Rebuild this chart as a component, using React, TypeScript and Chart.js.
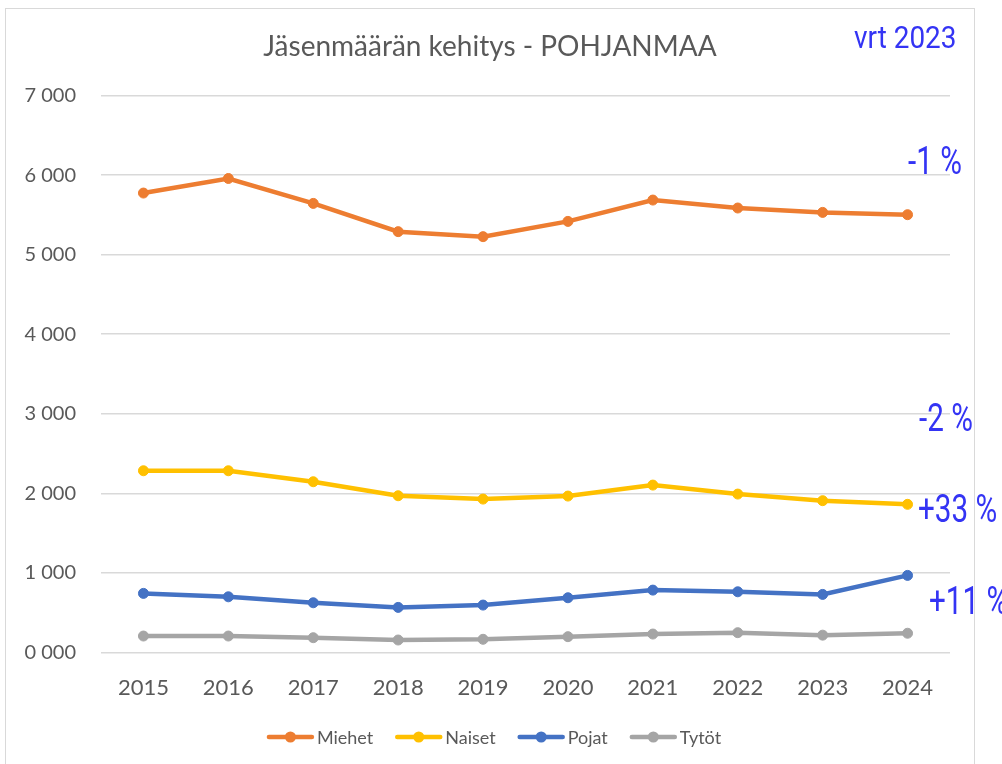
import React, { useEffect, useRef } from "react";
import { Chart, registerables } from "chart.js";

Chart.register(...registerables);

const years = ["2015", "2016", "2017", "2018", "2019", "2020", "2021", "2022", "2023", "2024"];
const miehet = [5774, 5957, 5644, 5289, 5226, 5418, 5686, 5586, 5531, 5502];
const naiset = [2284, 2284, 2146, 1970, 1928, 1966, 2104, 1991, 1908, 1862];
const pojat = [743, 700, 625, 567, 596, 688, 784, 763, 730, 969];
const tytot = [207, 207, 186, 157, 166, 199, 232, 249, 218, 242];
const seriesNames = ["Miehet", "Naiset", "Pojat", "Tytöt"];
const seriesColors = ["#ED7D31", "#FFC000", "#4472C4", "#A5A5A5"];

const titleText = "Jäsenmäärän kehitys - POHJANMAA";
const compareText = "vrt 2023";
const changeTexts = ["-1 %", "-2 %", "+33 %", "+11 %"];
// layout of the change labels (left x, vertical centre)
const changeLayout = [
  { x: 908, y: 160 },
  { x: 919, y: 417 },
  { x: 918, y: 508 },
  { x: 929, y: 600 },
];

const GRAY = "#595959";
const BLUE = "#3434F4";

function drawScaled(
  ctx: CanvasRenderingContext2D,
  text: string,
  x: number,
  y: number,
  font: string,
  color: string,
  sx: number,
  align: CanvasTextAlign
) {
  ctx.save();
  ctx.translate(x, y);
  ctx.scale(sx, 1);
  ctx.font = font;
  ctx.fillStyle = color;
  ctx.textAlign = align;
  ctx.textBaseline = "alphabetic";
  ctx.fillText(text, 0, 0);
  ctx.restore();
}

const overlayPlugin = {
  id: "overlay",
  afterDraw(chart: any) {
    const ctx: CanvasRenderingContext2D = chart.ctx;
    // title
    drawScaled(ctx, titleText, 490, 56, "28px Lato", GRAY, 1, "center");
    // compare label
    drawScaled(ctx, compareText, 854, 48, "31px Roboto", BLUE, 0.9, "left");
    // change labels
    changeTexts.forEach((t, i) => {
      const p = changeLayout[i];
      drawScaled(ctx, t, p.x, p.y + 13.5, "38px Roboto", BLUE, 0.78, "left");
    });
    // legend
    ctx.save();
    ctx.font = "18px Lato";
    const lineW = 47;
    const gapText = 3;
    const gapItem = 22;
    const widths = chart.data.datasets.map(
      (d: any) => lineW + gapText + ctx.measureText(d.label).width
    );
    const total = widths.reduce((a: number, b: number) => a + b, 0) + gapItem * (widths.length - 1);
    let x = 494 - total / 2;
    const ly = 737;
    chart.data.datasets.forEach((d: any, i: number) => {
      ctx.strokeStyle = d.borderColor;
      ctx.lineWidth = 4.5;
      ctx.lineCap = "round";
      ctx.beginPath();
      ctx.moveTo(x + 2, ly);
      ctx.lineTo(x + lineW - 2, ly);
      ctx.stroke();
      ctx.fillStyle = d.borderColor;
      ctx.beginPath();
      ctx.arc(x + lineW / 2, ly, 5.5, 0, Math.PI * 2);
      ctx.fill();
      ctx.fillStyle = GRAY;
      ctx.textAlign = "left";
      ctx.textBaseline = "middle";
      ctx.fillText(d.label, x + lineW + gapText, ly + 1);
      x += widths[i] + gapItem;
    });
    ctx.restore();
  },
};

function fmt(v: number) {
  const th = Math.floor(v / 1000);
  const rest = String(Math.round(v % 1000)).padStart(3, "0");
  return `${th} ${rest}`;
}

export default function App() {
  const ref = useRef<HTMLCanvasElement | null>(null);
  useEffect(() => {
    if (!ref.current) return;
    const values = [miehet, naiset, pojat, tytot];
    const chart = new Chart(ref.current, {
      type: "line",
      data: {
        labels: years,
        datasets: values.map((v, i) => ({
          label: seriesNames[i],
          data: v,
          borderColor: seriesColors[i],
          backgroundColor: seriesColors[i],
          pointBackgroundColor: seriesColors[i],
          pointBorderColor: seriesColors[i],
          borderWidth: 4.5,
          pointRadius: 5,
          pointBorderWidth: 1,
          tension: 0,
          fill: false,
        })),
      },
      options: {
        animation: false,
        responsive: false,
        maintainAspectRatio: false,
        layout: { padding: { left: 0, right: 52, top: 95.5, bottom: 51.5 } },
        plugins: {
          legend: { display: false },
          title: { display: false },
          tooltip: { enabled: false },
        },
        scales: {
          x: {
            offset: true,
            grid: { display: false, drawTicks: false },
            border: { display: false },
            ticks: { color: GRAY, font: { family: "Lato", size: 22 }, padding: 22, maxRotation: 0 },
            afterFit: (s: any) => {
              s.height = 60;
            },
          },
          y: {
            min: 0,
            max: 7000,
            grid: { color: "#D9D9D9", lineWidth: 1.5, drawTicks: false },
            border: { display: false },
            ticks: {
              stepSize: 1000,
              color: GRAY,
              font: { family: "Lato", size: 20 },
              padding: 25,
              callback: (v: any) => fmt(Number(v)),
            },
            afterFit: (s: any) => {
              s.width = 101;
            },
          },
        },
      },
      plugins: [overlayPlugin],
    });
    return () => chart.destroy();
  }, []);

  return (
    <div
      style={{
        position: "absolute",
        left: 0,
        top: 0,
        width: 1002,
        height: 764,
        overflow: "hidden",
        background: "#fff",
      }}
    >
      <div
        style={{
          position: "absolute",
          left: 5,
          top: 8,
          width: 970,
          height: 800,
          border: "1.5px solid #D9D9D9",
          boxSizing: "border-box",
        }}
      />
      <canvas
        ref={ref}
        width={1002}
        height={764}
        style={{ position: "absolute", left: 0, top: 0, width: 1002, height: 764 }}
      />
    </div>
  );
}
